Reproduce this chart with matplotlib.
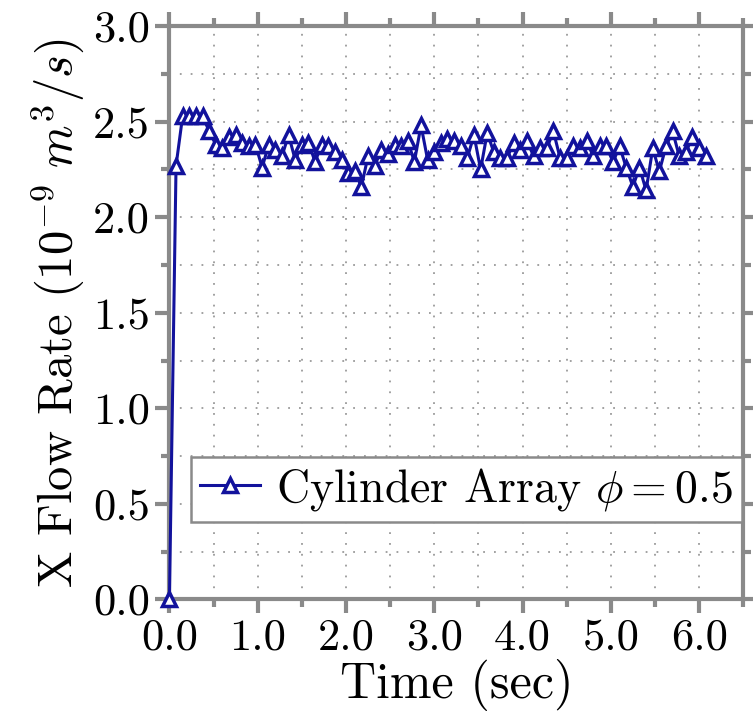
import numpy as np
import matplotlib
matplotlib.use("Agg")
import matplotlib.pyplot as plt
from matplotlib.ticker import MultipleLocator, FormatStrFormatter

plt.rcParams['font.family'] = 'serif'
plt.rcParams['font.serif'] = ['cmr10', 'DejaVu Serif']
plt.rcParams['mathtext.fontset'] = 'cm'
plt.rcParams['axes.unicode_minus'] = False

# sampling interval of the flow rate output (sec)
dt = 0.075
flow = [0.00, 2.27, 2.53, 2.53, 2.53, 2.53, 2.45, 2.38, 2.36, 2.42,
        2.43, 2.39, 2.37, 2.38, 2.26, 2.38, 2.35, 2.32, 2.43, 2.30,
        2.38, 2.39, 2.29, 2.38, 2.37, 2.34, 2.30, 2.23, 2.24, 2.16,
        2.32, 2.27, 2.35, 2.33, 2.38, 2.37, 2.40, 2.29, 2.48, 2.30,
        2.34, 2.39, 2.41, 2.40, 2.37, 2.31, 2.43, 2.25, 2.44, 2.34,
        2.31, 2.31, 2.39, 2.35, 2.40, 2.32, 2.36, 2.36, 2.45, 2.31,
        2.31, 2.37, 2.36, 2.40, 2.32, 2.37, 2.37, 2.29, 2.37, 2.26,
        2.16, 2.26, 2.14, 2.36, 2.24, 2.37, 2.45, 2.32, 2.34, 2.42,
        2.36, 2.32]
time = np.arange(len(flow)) * dt

col = '#12129c'
gray = '#8a8a8a'

fig = plt.figure(figsize=(7.53, 7.24), dpi=100)
ax = fig.add_axes([0.225, 0.172, 0.762, 0.792])

ax.plot(time, flow, '-^', color=col, lw=2.2, ms=10, mfc='white', mec=col, mew=2.5,
        clip_on=False, zorder=5, label=r'Cylinder Array $\phi = 0.5$')

ax.set_xlim(0, 6.5)
ax.set_ylim(0, 3.0)
ax.xaxis.set_major_locator(MultipleLocator(1.0))
ax.xaxis.set_minor_locator(MultipleLocator(0.5))
ax.yaxis.set_major_locator(MultipleLocator(0.5))
ax.yaxis.set_minor_locator(MultipleLocator(0.25))
ax.xaxis.set_major_formatter(FormatStrFormatter('%.1f'))
ax.yaxis.set_major_formatter(FormatStrFormatter('%.1f'))

ax.grid(which='both', color='#9a9a9a', linestyle=(0, (1, 5)), linewidth=1.3)
for s in ax.spines.values():
    s.set_color(gray)
    s.set_linewidth(3)
ax.tick_params(which='both', direction='out', color=gray, width=3,
               top=True, right=True, labelsize=32, pad=4)
ax.tick_params(which='major', length=10)
ax.tick_params(which='minor', length=6)

ax.set_xlabel('Time (sec)', fontsize=36, labelpad=0)
ax.set_ylabel(r'X Flow Rate ($10^{-9}\ m^3/s$)', fontsize=35, labelpad=5)

leg = ax.legend(loc='lower right', bbox_to_anchor=(0.998, 0.135), fontsize=33,
                numpoints=1, fancybox=False, framealpha=1, edgecolor=gray,
                handlelength=1.3, borderpad=0.2, handletextpad=0.35,
                borderaxespad=0)
leg.get_frame().set_linewidth(1.8)

plt.savefig('out.png', dpi=100)
